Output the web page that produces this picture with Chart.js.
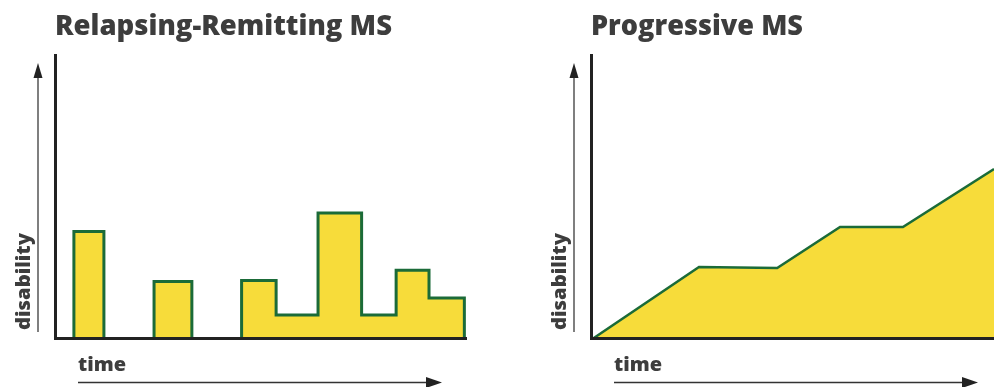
<!DOCTYPE html>
<html lang="en">
<head>
<meta charset="UTF-8">
<title>Relapsing-Remitting vs Progressive MS</title>
<script src="https://cdn.jsdelivr.net/npm/chart.js"></script>
<style>
  body { margin: 0; background: #fff; }
  #wrap { position: relative; width: 994px; height: 387px; overflow: hidden; }
  canvas { position: absolute; top: 0; }
  #rr { left: 0; }
  #prog { left: 497px; }
</style>
</head>
<body>
<div id="wrap">
  <canvas id="rr" width="497" height="387"></canvas>
  <canvas id="prog" width="497" height="387"></canvas>
</div>
<script>
// Relapsing-Remitting: step outline (time 0-100, disability 0-100), null = no relapse
const rrTime  = [4.6, 4.6, 11.9, 18, 24.1, 24.1, 33.3, 39, 45.4, 45.4, 53.8, 64.0, 74.6, 83.0, 91.0, 99.6];
const rrLevel = [0, 37.6, 0, null, 0, 20.0, 0, null, 0, 20.3, 8.1, 44.2, 8.1, 23.9, 14.1, 0];

// Progressive: steadily rising line
const progTime  = [0.7, 26.8, 46.2, 61.8, 77.4, 100];
const progLevel = [0, 25.1, 24.7, 39.2, 39.2, 59.7];

const titles = ['Relapsing-Remitting MS', 'Progressive MS'];
const titleWidths = [337, 212];

const yellow = '#f7dc3a';
const green = '#1b6b38';
const textColor = '#3d3d3d';
const FONT = '"Open Sans", "Noto Sans", sans-serif';

function toPoints(xs, ys) {
    return xs.map((x, i) => ({ x: x, y: ys[i] }));
}

// draw text squeezed/stretched horizontally to a given width
function fitText(ctx, text, x, y, size, width, weight) {
    ctx.font = weight + ' ' + size + 'px ' + FONT;
    const w = ctx.measureText(text).width;
    ctx.save();
    ctx.translate(x, y);
    ctx.scale(width / w, 1);
    ctx.fillText(text, 0, 0);
    ctx.restore();
}

function arrowHead(ctx, x, y, dx, dy, len, half) {
    // tip at (x,y), pointing along (dx,dy)
    const bx = x - dx * len, by = y - dy * len;
    ctx.beginPath();
    ctx.moveTo(x, y);
    ctx.lineTo(bx - dy * half, by + dx * half);
    ctx.lineTo(bx + dy * half, by - dx * half);
    ctx.closePath();
    ctx.fill();
}

const decor = {
    id: 'decor',
    afterDraw(chart, args, opts) {
        const ctx = chart.ctx;
        const a = chart.chartArea;
        ctx.save();
        ctx.fillStyle = textColor;
        ctx.textAlign = 'left';
        ctx.textBaseline = 'alphabetic';
        fitText(ctx, opts.title, a.left, 35, 29, opts.titleWidth, 800);
        fitText(ctx, 'time', a.left + 23, 371, 20, 48, 800);

        // rotated y label
        ctx.save();
        ctx.translate(a.left - 25, 330);
        ctx.rotate(-Math.PI / 2);
        fitText(ctx, 'disability', 0, 0, 20, 97, 800);
        ctx.restore();

        // vertical arrow
        const ax = a.left - 17;
        ctx.strokeStyle = '#555';
        ctx.lineWidth = 1.5;
        ctx.beginPath();
        ctx.moveTo(ax, 332);
        ctx.lineTo(ax, 75);
        ctx.stroke();
        ctx.fillStyle = '#222';
        arrowHead(ctx, ax, 63, 0, -1, 15, 4.5);

        // horizontal arrow
        const ay = 382.5;
        ctx.strokeStyle = '#333';
        ctx.beginPath();
        ctx.moveTo(a.left + 23, ay);
        ctx.lineTo(a.left + 375, ay);
        ctx.stroke();
        arrowHead(ctx, a.left + 387, ay, 1, 0, 16, 5.5);
        ctx.restore();
    }
};

function axis(max) {
    return {
        type: 'linear',
        min: 0,
        max: max,
        grid: { display: false, drawTicks: false },
        ticks: { display: false },
        border: { display: true, color: '#222', width: 3, z: 1 }
    };
}

function makeChart(id, points, stepped, idx, padding) {
    return new Chart(document.getElementById(id), {
        type: 'line',
        data: {
            datasets: [{
                data: points,
                stepped: stepped,
                spanGaps: false,
                fill: 'origin',
                backgroundColor: yellow,
                borderColor: green,
                borderWidth: stepped ? 3 : 2.5,
                borderJoinStyle: 'miter',
                pointRadius: 0,
                tension: 0
            }]
        },
        options: {
            responsive: false,
            animation: false,
            layout: { padding: padding },
            scales: { x: axis(100), y: axis(100) },
            plugins: {
                legend: { display: false },
                tooltip: { enabled: false },
                decor: { title: titles[idx], titleWidth: titleWidths[idx] }
            }
        },
        plugins: [decor]
    });
}

makeChart('rr', toPoints(rrTime, rrLevel), 'before', 0, { left: 55, top: 55, right: 31, bottom: 49 });
makeChart('prog', toPoints(progTime, progLevel), false, 1, { left: 94, top: 55, right: 0, bottom: 49 });
</script>
</body>
</html>
